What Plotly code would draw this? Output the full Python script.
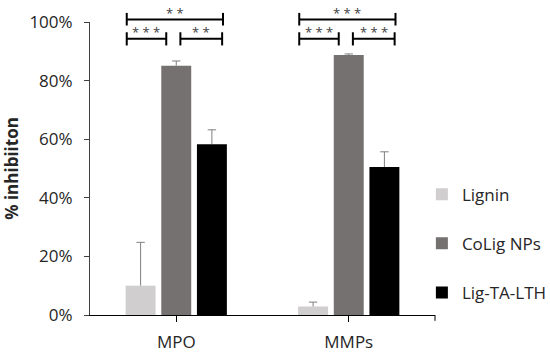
import plotly.graph_objects as go

categories = ["MPO", "MMPs"]
series_names = ["Lignin", "CoLig NPs", "Lig-TA-LTH"]
lignin = [0.100, 0.029]
colig = [0.851, 0.887]
ligta = [0.583, 0.505]
lignin_err = [0.148, 0.015]
colig_err = [0.016, 0.004]
ligta_err = [0.049, 0.052]
yticks = [0, 0.2, 0.4, 0.6, 0.8, 1.0]
ytick_labels = ["0%", "20%", "40%", "60%", "80%", "100%"]
# significance: (category index, x offset start, x offset end, level, label)
sig_brackets = [
    (0, -0.287, 0.271, "top", "* *"),
    (0, -0.287, -0.058, "low", "* * *"),
    (0, 0.024, 0.266, "low", "* *"),
    (1, -0.287, 0.271, "top", "* * *"),
    (1, -0.287, -0.058, "low", "* * *"),
    (1, 0.024, 0.266, "low", "* * *"),
]

colors = ["#D0CECE", "#767171", "#000000"]
values = [lignin, colig, ligta]
errs = [lignin_err, colig_err, ligta_err]

FONT = "Open Sans"
TXT = "#262626"
ERRC = "#7F7F7F"

fig = go.Figure()
for i, name in enumerate(series_names):
    fig.add_trace(go.Bar(
        x=categories, y=values[i], name=name,
        marker=dict(color=colors[i], line=dict(width=0)),
        error_y=dict(type="data", array=errs[i], symmetric=False,
                     arrayminus=[0, 0], color=ERRC, thickness=1, width=0),
        legendgroup=name, hoverinfo="skip",
    ))
# caps on top of the error bars only
for i, name in enumerate(series_names):
    fig.add_trace(go.Scatter(
        x=categories, y=[v + e for v, e in zip(values[i], errs[i])],
        mode="markers", showlegend=False, hoverinfo="skip",
        marker=dict(symbol="line-ew-open", size=6, color=ERRC,
                    line=dict(color=ERRC, width=1)),
    ))

shapes = []
annotations = []
levels = {"top": (1.0085, 1.031, 0.988), "low": (0.943, 0.965, 0.920)}
for ci, x0, x1, lvl, lab in sig_brackets:
    yl, yc0, yc1 = levels[lvl]
    px0 = (ci + x0 + 0.5) / 2.0
    px1 = (ci + x1 + 0.5) / 2.0
    line = dict(color="#000000", width=2)
    shapes.append(dict(type="line", xref="paper", yref="paper", x0=px0, x1=px1, y0=yl, y1=yl, line=line))
    shapes.append(dict(type="line", xref="paper", yref="paper", x0=px0, x1=px0, y0=yc0, y1=yc1, line=line))
    shapes.append(dict(type="line", xref="paper", yref="paper", x0=px1, x1=px1, y0=yc0, y1=yc1, line=line))
    annotations.append(dict(xref="paper", yref="paper", x=(px0 + px1) / 2, y=yl,
                            yanchor="bottom", xanchor="center", text=lab, showarrow=False,
                            font=dict(family=FONT, size=13, color="#404040"), yshift=-4))

# right end tick of category axis
shapes.append(dict(type="line", xref="paper", yref="paper", x0=1, x1=1, y0=0, y1=-0.02,
                   line=dict(color="#000000", width=1)))

fig.update_layout(
    width=550, height=355,
    margin=dict(l=90, r=115, t=22, b=40, autoexpand=False),
    paper_bgcolor="white", plot_bgcolor="white",
    barmode="group", bargap=0.38, bargroupgap=0.16,
    scattermode="group", scattergap=0.38,
    showlegend=True,
    legend=dict(x=0.962, xanchor="left", y=0.472, yanchor="top",
                font=dict(family=FONT, size=17, color=TXT),
                tracegroupgap=24, traceorder="grouped", itemwidth=30),
    font=dict(family=FONT, size=17, color=TXT),
    xaxis=dict(type="category", range=[-0.5, 1.5], showline=True, linecolor="#000000",
               linewidth=1, ticks="outside", ticklen=6, tickcolor="#000000",
               showgrid=False, zeroline=False, ticklabelstandoff=6, automargin=False,
               tickfont=dict(family=FONT, size=17, color=TXT)),
    yaxis=dict(range=[0, 1.0], tickvals=yticks, ticktext=ytick_labels,
               showline=True, linecolor="#404040", linewidth=1, ticks="outside",
               ticklen=5, tickcolor="#404040", showgrid=False, zeroline=False,
               ticklabelstandoff=8, automargin=False,
               tickfont=dict(family=FONT, size=17, color=TXT),
               title=dict(text="<b>% inhibiiton</b>", standoff=6,
                          font=dict(family=FONT, size=17, color=TXT))),
    shapes=shapes, annotations=annotations,
)

fig.write_html("out.html", config={"displayModeBar": False},
               post_script="document.body.style.margin='0';")
